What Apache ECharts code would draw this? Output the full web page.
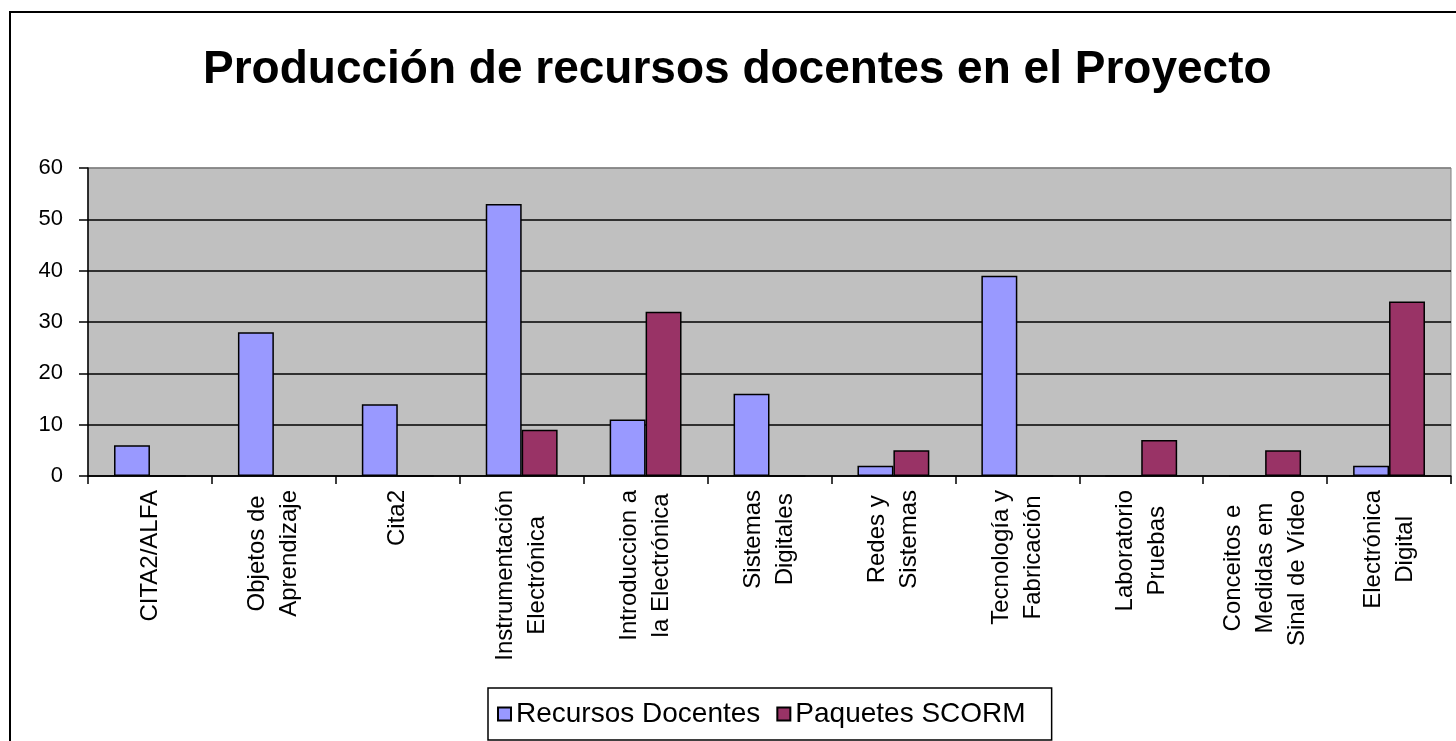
<!DOCTYPE html>
<html>
<head>
<meta charset="utf-8">
<script src="https://cdn.jsdelivr.net/npm/echarts@6/dist/echarts.min.js"></script>
<style>
html, body { margin: 0; padding: 0; background: #fff; }
#chart { width: 1456px; height: 741px; }
</style>
</head>
<body>
<div id="chart"></div>
<script>
var categories = [
	'CITA2/ALFA',
	'Objetos de\nAprendizaje',
	'Cita2',
	'Instrumentación\nElectrónica',
	'Introduccion a\nla Electrónica',
	'Sistemas\nDigitales',
	'Redes y\nSistemas',
	'Tecnología y\nFabricación',
	'Laboratorio\nPruebas',
	'Conceitos e\nMedidas em\nSinal de Vídeo',
	'Electrónica\nDigital'
];
var recursosDocentes = [6, 28, 14, 53, 11, 16, 2, 39, 0, 0, 2];
var paquetesScorm = [0, 0, 0, 9, 32, 0, 5, 0, 7, 5, 34];
var yTicks = [0, 10, 20, 30, 40, 50, 60];

var font = 'Liberation Sans, Arial, sans-serif';

var myChart = echarts.init(document.getElementById('chart'));

var option = {
	backgroundColor: '#fff',
	animation: false,
	title: {
		text: 'Producción de recursos docentes en el Proyecto',
		left: 198,
		top: 42,
		padding: 5,
		textStyle: {
			fontFamily: font,
			fontSize: 46,
			fontWeight: 'bold',
			color: '#000'
		}
	},
	graphic: [
		{
			type: 'rect',
			shape: { x: 10, y: 12, width: 1600, height: 900 },
			style: { fill: null, stroke: '#000', lineWidth: 2 },
			silent: true
		}
	],
	legend: {
		left: 488,
		top: 688,
		orient: 'horizontal',
		borderColor: '#000',
		borderWidth: 1.5,
		padding: [12, 26, 12, 9],
		itemWidth: 13,
		itemHeight: 13,
		itemGap: 16,
		icon: 'rect',
		textStyle: {
			fontFamily: font,
			fontSize: 28,
			color: '#000'
		},
		data: ['Recursos Docentes', 'Paquetes SCORM']
	},
	grid: {
		left: 88,
		right: 5,
		top: 168,
		bottom: 265,
		show: true,
		backgroundColor: '#C0C0C0',
		borderColor: '#808080',
		borderWidth: 1,
		outerBoundsMode: 'none'
	},
	xAxis: {
		type: 'category',
		data: categories,
		boundaryGap: true,
		axisLine: { lineStyle: { color: '#000', width: 1.5 } },
		axisTick: { show: true, length: 8, lineStyle: { color: '#000', width: 1.5 } },
		axisLabel: {
			interval: 0,
			rotate: 90,
			margin: 14,
			color: '#000',
			fontFamily: font,
			fontSize: 24,
			lineHeight: 32,
			formatter: function (value) {
				return value.split('\n').map(function (s) {
					return '{c|' + s + '}';
				}).join('\n');
			},
			rich: {
				c: {
					align: 'center',
					fontFamily: font,
					fontSize: 24,
					lineHeight: 32,
					color: '#000'
				}
			}
		}
	},
	yAxis: {
		type: 'value',
		min: yTicks[0],
		max: yTicks[yTicks.length - 1],
		interval: 10,
		axisLine: { show: true, lineStyle: { color: '#000', width: 1.5 } },
		axisTick: { show: true, length: 9, lineStyle: { color: '#000', width: 1.5 } },
		axisLabel: {
			margin: 25,
			color: '#000',
			fontFamily: font,
			fontSize: 22
		},
		splitLine: {
			show: true,
			lineStyle: {
				color: ['#000', '#000', '#000', '#000', '#000', '#000', '#808080'],
				width: 1.5
			}
		}
	},
	series: [
		{
			name: 'Recursos Docentes',
			type: 'bar',
			data: recursosDocentes,
			barGap: '0%',
			barCategoryGap: '42%',
			itemStyle: {
				color: '#9999FF',
				borderColor: '#000',
				borderWidth: 1.5
			}
		},
		{
			name: 'Paquetes SCORM',
			type: 'bar',
			data: paquetesScorm,
			barGap: '0%',
			barCategoryGap: '42%',
			itemStyle: {
				color: '#993366',
				borderColor: '#000',
				borderWidth: 1.5
			}
		}
	]
};

myChart.setOption(option);
</script>
</body>
</html>
